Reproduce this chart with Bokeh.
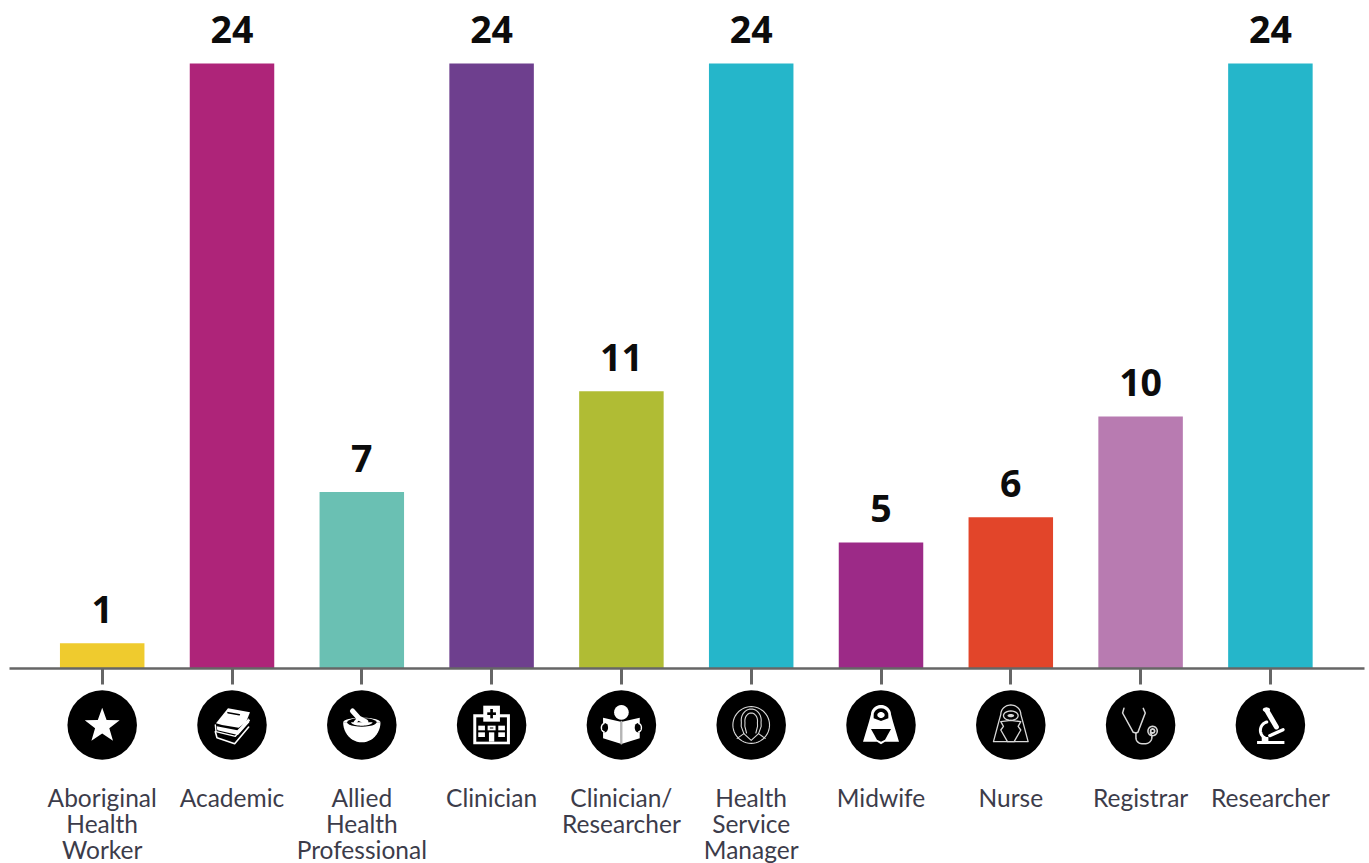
import math
from bokeh.core.properties import value
from bokeh.embed import file_html
from bokeh.models import ColumnDataSource, FixedTicker, Range1d
from bokeh.plotting import figure
from bokeh.resources import INLINE

categories = ["Aboriginal\nHealth\nWorker", "Academic", "Allied\nHealth\nProfessional", "Clinician",
              "Clinician/\nResearcher", "Health\nService\nManager", "Midwife", "Nurse", "Registrar", "Researcher"]
counts = [1, 24, 7, 24, 11, 24, 5, 6, 10, 24]
colors = ["#EFCB2E", "#AE2479", "#6AC0B3", "#6E3F8E", "#B0BC34", "#25B6CA", "#9C2A87", "#E2452A", "#B87BB1", "#25B6CA"]
icons = ["star", "books", "bowl", "hospital", "reader", "manager", "midwife", "nurse", "stethoscope", "microscope"]

W, H = 1369, 863
PX_X = 129.8          # pixels per category
PX_Y = 25.208         # pixels per count
LEFT = 101.7          # first category centre, px
BASE = 668            # baseline, px
ICON_DY = 724.5 - 668 # icon centre below baseline, px

p = figure(width=W, height=H, output_backend="svg", toolbar_location=None,
           x_range=Range1d(-LEFT / PX_X, (W - LEFT) / PX_X),
           y_range=Range1d(-(H - BASE) / PX_Y, BASE / PX_Y),
           min_border=0, outline_line_color=None, border_fill_color="white",
           x_axis_location="below", y_axis_location=None)
p.grid.visible = False

src = ColumnDataSource(dict(x=list(range(len(counts))), y=counts, c=colors, t=[str(v) for v in counts]))
p.vbar(x="x", top="y", bottom=0, width=84.5 / PX_X, fill_color="c", line_color=None, source=src)
p.text(x="x", y="y", text="t", source=src, text_align="center", text_baseline="alphabetic", y_offset=-34,
       text_font=value("Noto Sans"), text_font_style="bold", text_font_size="37.5px", text_color="#0c0c0c")

ax = p.xaxis[0]
ax.fixed_location = 0
ax.bounds = ((9 - LEFT) / PX_X, (1364 - LEFT) / PX_X)
ax.ticker = FixedTicker(ticks=list(range(len(counts))))
ax.major_label_overrides = {i: c for i, c in enumerate(categories)}
ax.axis_line_color = "#666666"
ax.axis_line_width = 2.5
ax.major_tick_line_color = "#666666"
ax.major_tick_line_width = 3
ax.major_tick_in = 0
ax.major_tick_out = 16
ax.minor_tick_line_color = None
ax.major_label_standoff = 98
ax.major_label_text_font = "Lato"
ax.major_label_text_font_size = "24.5px"
ax.major_label_text_color = "#3c3c4a"
ax.major_label_text_line_height = 0.9

# Icon artwork: local units are thirds of a pixel from the circle centre, y downward
def arc(cx, cy, rx, ry, a0, a1, n=24):
    return [(cx + rx * math.cos(math.radians(a0 + (a1 - a0) * k / n)),
             cy + ry * math.sin(math.radians(a0 + (a1 - a0) * k / n))) for k in range(n + 1)]

def rect(x0, y0, x1, y1):
    return [(x0, y0), (x1, y0), (x1, y1), (x0, y1)]

WH, BK, GR = "#ffffff", "#000000", "#d8d8d8"
def F(pts, c=WH):
    return ("f", pts, c, 0)
def L(pts, w=1.3, c=WH):
    return ("l", pts, c, w)

star = [(((38 if k % 2 == 0 else 15.5) * math.cos(math.radians(-90 + 36 * k))) * 1.45,
         ((38 if k % 2 == 0 else 15.5) * math.sin(math.radians(-90 + 36 * k))) * 1.45 + 3) for k in range(10)]

ART = {
    "star": [F(star)],
    "books": [
        F([(-48, -5), (-12, -50), (54, -38), (42, -8), (20, 8), (-30, 0)]),
        L([(-12, -37), (22, -31)], 1.6, BK),
        F([(-46, 4), (16, 16), (50, -20), (52, -8), (18, 30), (-44, 16)]),
        L([(-50, 0), (-48, 20), (10, 34), (52, -14)], 1.4),
        L([(-50, 20), (-45, 38), (8, 56), (50, 6)], 1.6),
    ],
    "bowl": [
        F(arc(0, -8, 56, 60, 0, 180)),
        F(arc(0, -8, 56, 14, 180, 360)),
        F(arc(0, -8, 44, 13, 0, 360), BK),
        F(arc(0, -8, 32, 10, 0, 180)),
        L([(-28, -42), (-8, -20), (12, -10)], 5),
        L([(-8, -22), (-20, -8)], 3),
    ],
    "hospital": [
        F(rect(-55, -32, 55, 58)),
        F(rect(-46, -23, 46, 50), BK),
        F(rect(-25, -58, 25, -10)),
        F(rect(-4, -48, 4, -20), BK),
        F(rect(-13, -38, 13, -30), BK),
        F(rect(-40, 2, -20, 16)), F(rect(-12, 2, 12, 16)), F(rect(20, 2, 40, 16)),
        F(rect(-40, 22, -20, 36)), F(rect(20, 22, 40, 36)),
        F(rect(-8, 22, 8, 50)),
        L([(-4, 9), (4, 9)], 1, BK),
    ],
    "reader": [
        F(arc(0, -38, 22, 22, 0, 360)),
        F([(-55, -22), (-2, -10), (-2, 56), (-55, 40)]),
        F([(55, -22), (2, -10), (2, 56), (55, 40)]),
        L([(0, -10), (0, 56)], 1.8, "#b5b5b5"),
        F(arc(-50, 8, 10, 14, 0, 360), BK),
        F(arc(50, 8, 10, 14, 0, 360), BK),
        L(arc(-52, 8, 8, 12, 90, 270), 1.4),
        L(arc(52, 8, 8, 12, -90, 90), 1.4),
    ],
    "manager": [
        L(arc(0, 0, 55, 55, 0, 360, 48), 1.1, GR),
        L([(-42, 40), (-22, 26), (-30, 4)] + arc(0, -14, 30, 34, 170, 370) + [(30, 4), (22, 26), (42, 40)], 1.1, GR),
        L([(-14, 24), (-19, 4)] + arc(0, -12, 19, 24, 170, 370) + [(19, 4), (14, 24)], 1.1, GR),
        L([(-22, 26), (0, 46), (22, 26)], 1.1, GR),
    ],
    "midwife": [
        F(arc(0, -32, 30, 28, 180, 360) + [(36, -10), (54, 50), (12, 50), (0, 58), (-12, 50), (-54, 50), (-36, -10)]),
        F(arc(0, -30, 22, 20, 180, 360) + [(22, -20), (0, -12), (-22, -20)], BK),
        F(arc(0, -30, 11, 9, 0, 360)),
        F([(-30, 12), (30, 12), (12, 44), (0, 50), (-12, 44)], BK),
    ],
    "nurse": [
        L(arc(0, -32, 30, 28, 180, 360) + [(36, -10), (52, 50), (-52, 50), (-36, -10), (-30, -32)], 1.3, GR),
        L(arc(0, -28, 22, 14, 0, 360), 1.3, GR),
        F(arc(0, -28, 10, 5, 0, 360), GR),
        L([(-30, 15), (-22, 4), (-30, -10), (0, -14), (30, -10), (22, 4), (30, 15), (10, 50), (-10, 50), (-30, 15)], 1.3, GR),
    ],
    "stethoscope": [
        L([(-50, -50), (-54, -36), (-22, 22), (-14, 24), (-8, 22), (14, -36), (8, -50)], 1.5, GR),
        L([(-14, 24), (-14, 38)] + arc(4, 38, 18, 18, 180, 90) + arc(14, 36, 20, 20, 90, -40), 1.5, GR),
        L(arc(36, 18, 14, 14, 0, 360), 1.5, GR),
        L(arc(36, 18, 6, 6, 0, 360), 1.8, GR),
    ],
    "microscope": [
        F(rect(-40, 48, 42, 57)),
        F([(-26, 36), (-6, 36), (-6, 48), (-26, 48)]),
        L(arc(-4, 16, 26, 26, 255, 120), 3),
        L([(-10, -42), (18, 6)], 5),
        F(arc(-12, -46, 11, 7, 0, 360)),
        L([(-2, 32), (38, 14)], 3.2),
    ],
}

def to_x(i, u):
    return i + (u / 3) / PX_X

def to_y(v):
    return -(ICON_DY + v / 3) / PX_Y

p.scatter(x=list(range(len(counts))), y=[-ICON_DY / PX_Y] * len(counts), size=69.5, marker="circle",
          fill_color="black", line_color=None)

for i, name in enumerate(icons):
    for kind, pts, c, w in ART[name]:
        xs = [to_x(i, a) for a, _ in pts]
        ys = [to_y(b) for _, b in pts]
        if kind == "f":
            p.patch(xs, ys, fill_color=c, line_color=None)
        else:
            p.line(xs, ys, line_color=c, line_width=w, line_join="round", line_cap="round")

open("out.html", "w").write(file_html(p, INLINE))
